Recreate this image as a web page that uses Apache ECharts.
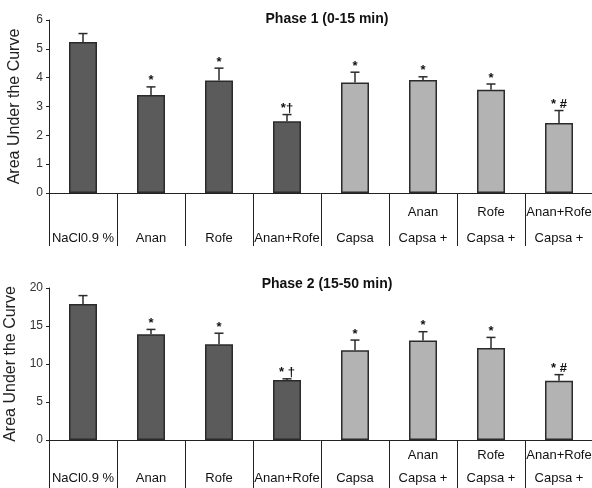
<!DOCTYPE html>
<html>
<head>
<meta charset="utf-8">
<script src="https://cdn.jsdelivr.net/npm/echarts@6/dist/echarts.min.js"></script>
<style>
  html, body { margin: 0; padding: 0; background: #fff; }
  #chart { width: 592px; height: 488px; }
</style>
</head>
<body>
<div id="chart"></div>
<script>
// Treatment groups: upper label line (combination drug) and lower label line
const labelUpper = ['', '', '', '', '', 'Anan', 'Rofe', 'Anan+Rofe'];
const labelLower = ['NaCl0.9 %', 'Anan', 'Rofe', 'Anan+Rofe', 'Capsa', 'Capsa +', 'Capsa +', 'Capsa +'];
const categories = labelLower.map((l, i) => (labelUpper[i] ? labelUpper[i] + ' / ' : '') + l);

// Phase 1 (0-15 min): mean AUC and SEM
const phase1Mean = [5.24, 3.40, 3.90, 2.49, 3.83, 3.92, 3.58, 2.43];
const phase1Sem  = [0.29, 0.28, 0.43, 0.23, 0.36, 0.11, 0.20, 0.43];
const phase1Marks = ['', '*', '*', '*\u2020', '*', '*', '*', '* #'];

// Phase 2 (15-50 min): mean AUC and SEM
const phase2Mean = [17.9, 13.9, 12.6, 7.9, 11.8, 13.1, 12.1, 7.8];
const phase2Sem  = [1.1, 0.65, 1.45, 0.15, 1.35, 1.15, 1.4, 0.8];
const phase2Marks = ['', '*', '*', '* \u2020', '*', '*', '*', '* #'];

const yTicks1 = { min: 0, max: 6, interval: 1 };
const yTicks2 = { min: 0, max: 20, interval: 5 };

const FONT = '"Liberation Sans", Arial, Helvetica, sans-serif';
const DARK = '#5b5b5b';
const LIGHT = '#b3b3b3';
const EDGE = '#2b2b2b';

const chart = echarts.init(document.getElementById('chart'), null, { renderer: 'canvas' });

function xAxisFor(gridIndex, tickLen, margin, lineH) {
  return {
    type: 'category',
    gridIndex,
    data: categories,
    axisLine: { lineStyle: { color: '#222', width: 1 } },
    axisTick: { show: true, length: tickLen, alignWithLabel: false, lineStyle: { color: '#222', width: 1 } },
    axisLabel: {
      interval: 0,
      margin,
      fontFamily: FONT,
      fontSize: 13,
      color: '#111',
      lineHeight: lineH,
      formatter: (v, i) => (labelUpper[i] || ' ') + '\n' + labelLower[i]
    }
  };
}

function yAxisFor(gridIndex, ticks) {
  return {
    type: 'value',
    gridIndex,
    min: ticks.min,
    max: ticks.max,
    interval: ticks.interval,
    name: 'Area Under the Curve',
    nameLocation: 'middle',
    nameGap: 26,
    nameTextStyle: { fontFamily: FONT, fontSize: 16, color: '#222' },
    axisLine: { show: true, lineStyle: { color: '#222', width: 1 } },
    axisTick: { show: true, length: 3, lineStyle: { color: '#222' } },
    axisLabel: { fontFamily: FONT, fontSize: 12, color: '#333', margin: 6 },
    splitLine: { show: false }
  };
}

function barSeries(idx, means) {
  return {
    type: 'bar',
    xAxisIndex: idx,
    yAxisIndex: idx,
    data: means,
    barWidth: 28,
    itemStyle: {
      color: p => (p.dataIndex < 4 ? DARK : LIGHT),
      borderColor: EDGE,
      borderWidth: 1.5
    },
    silent: true
  };
}

function errorSeries(idx, means, sems, marks) {
  return {
    type: 'custom',
    xAxisIndex: idx,
    yAxisIndex: idx,
    z: 3,
    silent: true,
    data: means.map((m, i) => [i, m, sems[i]]),
    encode: { x: 0, y: 1 },
    renderItem: (params, api) => {
      const i = api.value(0);
      const m = api.value(1);
      const e = api.value(2);
      const base = api.coord([i, m]);
      const top = api.coord([i, m + e]);
      const style = { stroke: EDGE, lineWidth: 1.5 };
      return {
        type: 'group',
        children: [
          { type: 'line', shape: { x1: base[0], y1: base[1], x2: top[0], y2: top[1] }, style },
          { type: 'line', shape: { x1: top[0] - 4.5, y1: top[1], x2: top[0] + 4.5, y2: top[1] }, style },
          {
            type: 'text',
            style: {
              x: top[0], y: top[1] - 6,
              text: marks[i],
              align: 'center', verticalAlign: 'middle',
              font: 'bold 13px ' + FONT,
              fill: '#111'
            }
          }
        ]
      };
    }
  };
}

chart.setOption({
  animation: false,
  backgroundColor: '#fff',
  grid: [
    { left: 49, top: 20, width: 544, height: 173, outerBoundsMode: 'none', containLabel: false },
    { left: 49, top: 288, width: 544, height: 152, outerBoundsMode: 'none', containLabel: false }
  ],
  xAxis: [xAxisFor(0, 53, 6, 26), xAxisFor(1, 50, 3.5, 23)],
  yAxis: [yAxisFor(0, yTicks1), yAxisFor(1, yTicks2)],
  graphic: [
    { type: 'text', x: 327, y: 19, style: { text: 'Phase 1 (0-15 min)', align: 'center', verticalAlign: 'middle', font: 'bold 14px ' + FONT, fill: '#111' } },
    { type: 'text', x: 327, y: 284, style: { text: 'Phase 2 (15-50 min)', align: 'center', verticalAlign: 'middle', font: 'bold 14px ' + FONT, fill: '#111' } }
  ],
  series: [
    barSeries(0, phase1Mean),
    errorSeries(0, phase1Mean, phase1Sem, phase1Marks),
    barSeries(1, phase2Mean),
    errorSeries(1, phase2Mean, phase2Sem, phase2Marks)
  ]
});
</script>
</body>
</html>
